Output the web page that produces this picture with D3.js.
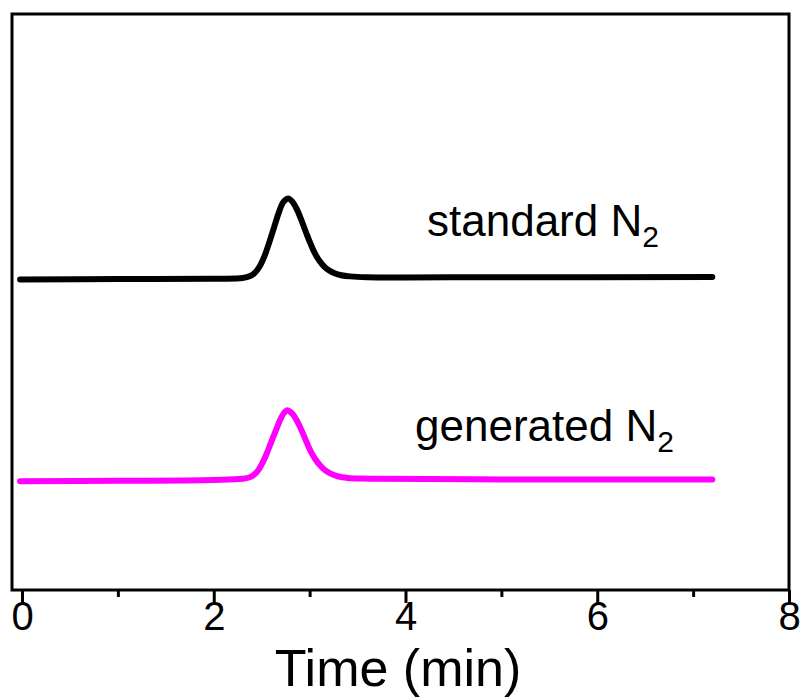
<!DOCTYPE html>
<html><head><meta charset="utf-8">
<script src="https://cdn.jsdelivr.net/npm/d3@7"></script>
<style>body{margin:0;background:#fff}svg{display:block}text{font-family:"Liberation Sans",Arial,sans-serif}</style>
</head><body>
<svg id="chart" width="802" height="700"></svg>
<script>
const majorTicks = [0, 2, 4, 6, 8];
const minorTicks = [1, 3, 5, 7];
const xLabel = "Time (min)";
const seriesNames = ["standard N", "generated N"];
const seriesColors = ["#000000", "#ff00ff"];

const stdTime = [-0.02, 1.0, 2.0, 2.30, 2.38, 2.43, 2.48, 2.53, 2.58, 2.63, 2.68, 2.72, 2.76, 2.79, 2.83, 2.87, 2.91, 2.96, 3.00, 3.05, 3.10, 3.15, 3.20, 3.26, 3.33, 3.42, 3.6, 5.0, 7.2];
const stdValue = [53.9, 54.0, 54.05, 54.15, 54.5, 55.1, 56.2, 58.0, 60.4, 63.0, 65.6, 67.2, 67.9, 67.9, 67.2, 66.0, 64.4, 62.2, 60.5, 58.6, 57.2, 56.2, 55.5, 55.0, 54.65, 54.45, 54.3, 54.3, 54.35];

const genTime = [-0.02, 1.0, 2.0, 2.30, 2.38, 2.45, 2.50, 2.55, 2.60, 2.65, 2.70, 2.735, 2.765, 2.80, 2.83, 2.87, 2.90, 2.94, 2.97, 3.01, 3.06, 3.11, 3.16, 3.22, 3.30, 3.40, 3.55, 3.73, 5.0, 7.2];
const genValue = [18.9, 18.95, 19.1, 19.3, 19.6, 20.5, 21.8, 23.6, 25.7, 27.8, 29.8, 30.8, 31.2, 30.9, 30.4, 29.3, 28.3, 26.8, 25.6, 24.1, 22.7, 21.6, 20.8, 20.2, 19.7, 19.45, 19.35, 19.3, 19.2, 19.2];

const svg = d3.select("#chart");
const frame = {left: 12, top: 14, right: 789, bottom: 590};
const x = d3.scaleLinear().domain([0, 8]).range([22, 789]);
const y = d3.scaleLinear().domain([0, 100]).range([590, 14]);

// frame
svg.append("rect").attr("x", frame.left).attr("y", frame.top)
  .attr("width", frame.right - frame.left).attr("height", frame.bottom - frame.top)
  .attr("fill", "none").attr("stroke", "#000").attr("stroke-width", 3);

// bottom axis
const axMajor = d3.axisBottom(x).tickValues(majorTicks).tickSize(13).tickPadding(-1).tickFormat(d3.format("d"));
const gMaj = svg.append("g").attr("transform", `translate(0,${frame.bottom})`).call(axMajor);
gMaj.select(".domain").remove();
gMaj.selectAll(".tick line").attr("stroke", "#000").attr("stroke-width", 3);
gMaj.selectAll(".tick text").attr("font-size", 40).attr("fill", "#000").attr("font-family", "Liberation Sans, Arial, sans-serif");
const axMinor = d3.axisBottom(x).tickValues(minorTicks).tickSize(7).tickFormat("");
const gMin = svg.append("g").attr("transform", `translate(0,${frame.bottom})`).call(axMinor);
gMin.select(".domain").remove();
gMin.selectAll(".tick line").attr("stroke", "#000").attr("stroke-width", 3);

svg.append("text").attr("x", 398).attr("y", 686).attr("text-anchor", "middle")
  .attr("font-size", 52).attr("fill", "#000").text(xLabel);

const line = d3.line().x(d => x(d[0])).y(d => y(d[1])).curve(d3.curveCatmullRom.alpha(0.5));
const series = [d3.zip(stdTime, stdValue), d3.zip(genTime, genValue)];
series.forEach((s, i) => {
  svg.append("path").datum(s).attr("d", line).attr("fill", "none")
    .attr("stroke", seriesColors[i]).attr("stroke-width", 6)
    .attr("stroke-linecap", "round").attr("stroke-linejoin", "round");
});

// labels
const labelPos = [[427, 236], [415, 441]];
seriesNames.forEach((name, i) => {
  const t = svg.append("text").attr("x", labelPos[i][0]).attr("y", labelPos[i][1])
    .attr("font-size", 44).attr("fill", "#000");
  t.append("tspan").text(name);
  t.append("tspan").attr("font-size", 30).attr("dy", 11).text("2");
});
</script>
</body></html>
